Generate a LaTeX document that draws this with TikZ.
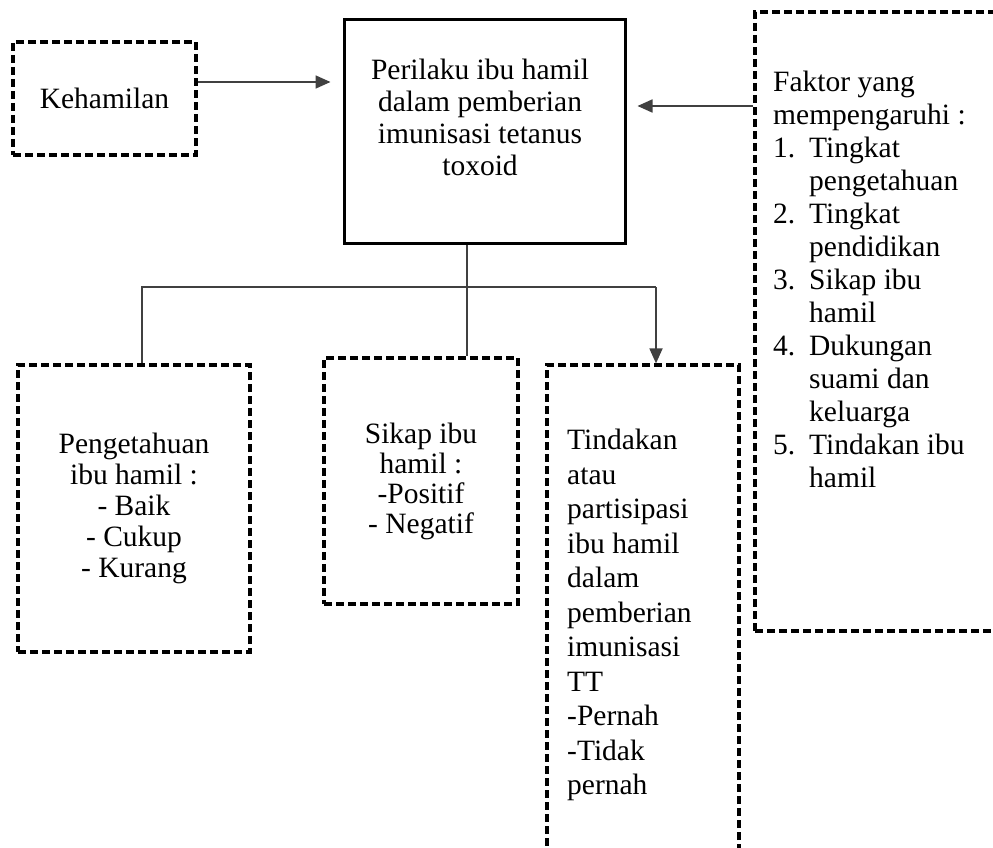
\documentclass[tikz,border=0pt]{standalone}
\usepackage{fontspec}
\setmainfont{Liberation Serif}
\usetikzlibrary{arrows.meta,positioning}

\begin{document}
\begin{tikzpicture}[x=1pt,y=-1pt]
\tikzset{
  every node/.style={inner sep=0pt},
  kotak/.style={draw, line width=3.2pt, dash pattern=on 8pt off 4pt, align=center},
  utama/.style={draw, line width=3pt},
  teks/.style={font=\fontsize{29.5}{32}\selectfont},
  garis/.style={black!75, line width=1.8pt},
  panah/.style={garis, -{Triangle[length=15pt,width=13pt]}}
}
\clip (0,0) rectangle (993,848);
% kotak atas
\node[kotak, teks, minimum width=183pt, minimum height=113pt] (kehamilan) at (104.5,98.5) {Kehamilan};
\node[utama, minimum width=281pt, minimum height=223pt] (perilaku) at (484.5,131.5) {};
\node[teks, align=center] (perilakuteks) at (480,117) {Perilaku ibu hamil\\dalam pemberian\\imunisasi tetanus\\toxoid};
\node[kotak, minimum width=345pt, minimum height=619pt] (faktor) at (927.5,321.5) {};
\node[teks, align=left, anchor=north west, font=\fontsize{29.5}{33}\selectfont] (faktorteks) at (773,71)
  {Faktor yang\\mempengaruhi :\\
   \makebox[36pt][l]{1.}Tingkat\\\hspace*{36pt}pengetahuan\\
   \makebox[36pt][l]{2.}Tingkat\\\hspace*{36pt}pendidikan\\
   \makebox[36pt][l]{3.}Sikap ibu\\\hspace*{36pt}hamil\\
   \makebox[36pt][l]{4.}Dukungan\\\hspace*{36pt}suami dan\\\hspace*{36pt}keluarga\\
   \makebox[36pt][l]{5.}Tindakan ibu\\\hspace*{36pt}hamil};
% kotak bawah
\node[kotak, teks, minimum width=232pt, minimum height=287pt, font=\fontsize{29.5}{31}\selectfont] (pengetahuan) at (134,508.5)
  {Pengetahuan\\ibu hamil :\\- Baik\\- Cukup\\- Kurang};
\node[kotak, teks, minimum width=194pt, minimum height=246pt, font=\fontsize{29.5}{30}\selectfont] (sikap) at (421,481)
  {Sikap ibu\\hamil :\\-Positif\\- Negatif};
\node[kotak, minimum width=192pt, minimum height=535pt] (tindakan) at (643,632.5) {};
\node[teks, align=left, anchor=north west, font=\fontsize{29.5}{34.5}\selectfont] (tindakanteks) at (567,429)
  {Tindakan\\atau\\partisipasi\\ibu hamil\\dalam\\pemberian\\imunisasi\\TT\\-Pernah\\-Tidak\\pernah};
% garis
\coordinate (cabang) at (467,287);
\coordinate (kiri) at (142,287);
\coordinate (kanan) at (656,287);
\draw[panah, shorten >=12pt] ([yshift=16.5pt]kehamilan.east) -- ([yshift=16.5pt]kehamilan.east -| perilaku.west);
\draw[panah, shorten >=11pt] ([yshift=215.5pt]faktor.west) -- ([yshift=215.5pt]faktor.west -| perilaku.east);
\draw[garis] (perilaku.south -| cabang) -- (sikap.north -| cabang);
\draw[garis] (pengetahuan.north -| kiri) -- (kiri) -- (kanan);
\draw[panah] (kanan) -- (tindakan.north -| kanan);
\end{tikzpicture}
\end{document}
